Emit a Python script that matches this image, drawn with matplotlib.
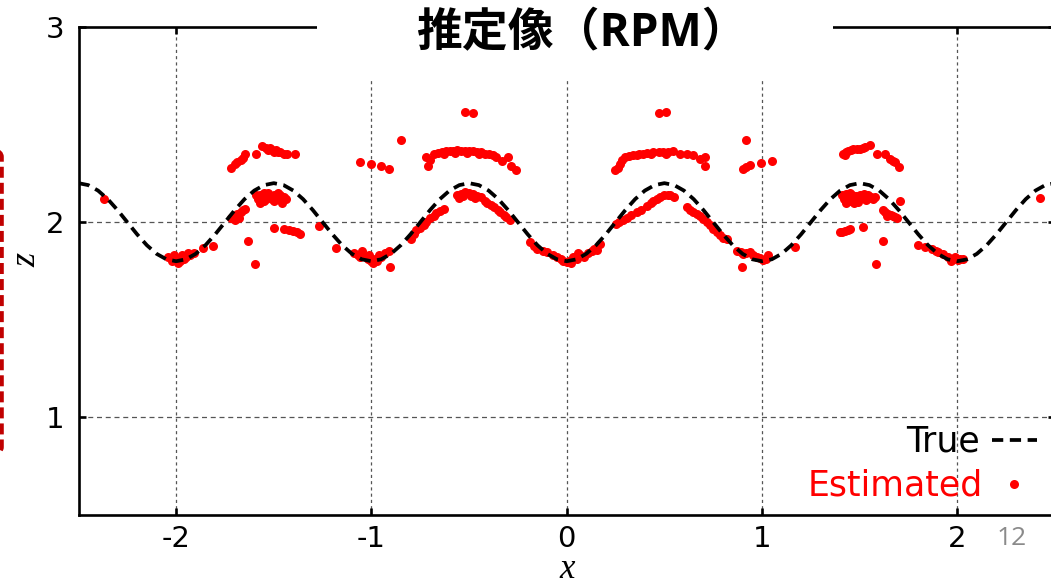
import matplotlib
matplotlib.use("Agg")
import matplotlib.pyplot as plt
from matplotlib.patches import Rectangle, FancyBboxPatch

# ---------------- data ----------------
title_text = "推定像（RPM）"
x_label = "x"
y_label = "z"
page_number = "12"
legend_true = "True"
legend_est = "Estimated"

x_ticks = [-2, -1, 0, 1, 2]
x_ticklabels = ["-2", "-1", "0", "1", "2"]
z_ticks = [1, 2, 3]
z_ticklabels = ["1", "2", "3"]

true_x = [
    -2.5, -2.45, -2.4, -2.35, -2.3, -2.25, -2.2, -2.15, -2.1, -2.05,
    -2.0, -1.95, -1.9, -1.85, -1.8, -1.75, -1.7, -1.65, -1.6, -1.55,
    -1.5, -1.45, -1.4, -1.35, -1.3, -1.25, -1.2, -1.15, -1.1, -1.05,
    -1.0, -0.95, -0.9, -0.85, -0.8, -0.75, -0.7, -0.65, -0.6, -0.55,
    -0.5, -0.45, -0.4, -0.35, -0.3, -0.25, -0.2, -0.15, -0.1, -0.05,
    0.0, 0.05, 0.1, 0.15, 0.2, 0.25, 0.3, 0.35, 0.4, 0.45,
    0.5, 0.55, 0.6, 0.65, 0.7, 0.75, 0.8, 0.85, 0.9, 0.95,
    1.0, 1.05, 1.1, 1.15, 1.2, 1.25, 1.3, 1.35, 1.4, 1.45,
    1.5, 1.55, 1.6, 1.65, 1.7, 1.75, 1.8, 1.85, 1.9, 1.95,
    2.0, 2.05, 2.1, 2.15, 2.2, 2.25, 2.3, 2.35, 2.4, 2.45,
    2.5,
]
true_z = [
    2.2, 2.19, 2.162, 2.118, 2.062, 2.0, 1.938, 1.882, 1.838, 1.81,
    1.8, 1.81, 1.838, 1.882, 1.938, 2.0, 2.062, 2.118, 2.162, 2.19,
    2.2, 2.19, 2.162, 2.118, 2.062, 2.0, 1.938, 1.882, 1.838, 1.81,
    1.8, 1.81, 1.838, 1.882, 1.938, 2.0, 2.062, 2.118, 2.162, 2.19,
    2.2, 2.19, 2.162, 2.118, 2.062, 2.0, 1.938, 1.882, 1.838, 1.81,
    1.8, 1.81, 1.838, 1.882, 1.938, 2.0, 2.062, 2.118, 2.162, 2.19,
    2.2, 2.19, 2.162, 2.118, 2.062, 2.0, 1.938, 1.882, 1.838, 1.81,
    1.8, 1.81, 1.838, 1.882, 1.938, 2.0, 2.062, 2.118, 2.162, 2.19,
    2.2, 2.19, 2.162, 2.118, 2.062, 2.0, 1.938, 1.882, 1.838, 1.81,
    1.8, 1.81, 1.838, 1.882, 1.938, 2.0, 2.062, 2.118, 2.162, 2.19,
    2.2,
]

# estimated points close to the true wave
est_wave = [
    (-2.37, 2.12),
    (-2.04, 1.82), (-2.02, 1.80), (-2.00, 1.81), (-1.98, 1.80), (-1.97, 1.83),
    (-1.95, 1.82), (-1.93, 1.83), (-1.91, 1.84), (-2.01, 1.83), (-1.99, 1.79),
    (-1.96, 1.81), (-1.94, 1.84), (-1.86, 1.87), (-1.81, 1.88),
    (-1.72, 2.02), (-1.70, 2.03), (-1.69, 2.04), (-1.67, 2.05), (-1.66, 2.06),
    (-1.65, 2.07), (-1.68, 2.02), (-1.70, 2.01),
    (-1.27, 1.98), (-1.18, 1.87),
    (-1.09, 1.84), (-1.07, 1.83), (-1.05, 1.85), (-1.03, 1.82), (-1.02, 1.81),
    (-1.00, 1.80), (-0.99, 1.79), (-0.98, 1.81), (-0.96, 1.83), (-0.95, 1.82),
    (-0.93, 1.84), (-0.91, 1.85), (-1.06, 1.82), (-1.01, 1.83), (-0.97, 1.80),
    (-0.80, 1.915), (-0.78, 1.94), (-0.77, 1.96), (-0.75, 1.97), (-0.73, 1.985),
    (-0.72, 2.00), (-0.70, 2.02), (-0.68, 2.03), (-0.67, 2.045), (-0.65, 2.055),
    (-0.63, 2.07),
    (-0.56, 2.137), (-0.54, 2.145), (-0.52, 2.155), (-0.50, 2.15), (-0.48, 2.145),
    (-0.46, 2.135), (-0.44, 2.128), (-0.42, 2.11), (-0.41, 2.10), (-0.39, 2.09),
    (-0.37, 2.077), (-0.35, 2.06), (-0.34, 2.05), (-0.32, 2.035), (-0.31, 2.026),
    (-0.29, 2.009), (-0.55, 2.125), (-0.53, 2.135), (-0.49, 2.135), (-0.47, 2.125),
    (-0.19, 1.898), (-0.17, 1.88), (-0.15, 1.864), (-0.12, 1.85), (-0.10, 1.846),
    (-0.07, 1.83), (-0.05, 1.82), (-0.03, 1.813), (0.0, 1.795),
    (-0.02, 1.80), (0.01, 1.80), (0.03, 1.82), (0.05, 1.81), (0.07, 1.83),
    (0.09, 1.82), (0.11, 1.84), (0.13, 1.85), (0.14, 1.865), (0.155, 1.86),
    (0.17, 1.89), (0.02, 1.79), (0.06, 1.84),
    (0.25, 1.99), (0.27, 2.00), (0.29, 2.01), (0.31, 2.02), (0.33, 2.035),
    (0.36, 2.05), (0.38, 2.065), (0.41, 2.085), (0.43, 2.10), (0.46, 2.12),
    (0.48, 2.13), (0.50, 2.137), (0.53, 2.137), (0.55, 2.128), (0.52, 2.14),
    (0.44, 2.11),
    (0.614, 2.077), (0.63, 2.06), (0.648, 2.051), (0.665, 2.04), (0.683, 2.034),
    (0.70, 2.015), (0.717, 2.0), (0.735, 1.985), (0.751, 1.966), (0.77, 1.95),
    (0.785, 1.932), (0.80, 1.92), (0.819, 1.915),
    (0.87, 1.855), (0.89, 1.845), (0.904, 1.838), (0.92, 1.84), (0.939, 1.846),
    (0.955, 1.83), (0.973, 1.821), (0.99, 1.815), (1.007, 1.804), (1.02, 1.81),
    (1.032, 1.83), (1.169, 1.872),
    (1.621, 2.06), (1.63, 2.05), (1.647, 2.043), (1.66, 2.035), (1.67, 2.03),
    (1.681, 2.026), (1.69, 2.02), (1.64, 2.03), (1.707, 2.111),
    (1.80, 1.881), (1.835, 1.872), (1.869, 1.864), (1.89, 1.855), (1.903, 1.846),
    (1.929, 1.838), (1.954, 1.821), (1.98, 1.813), (2.005, 1.804), (2.031, 1.813),
    (1.97, 1.80), (1.99, 1.82), (2.015, 1.81),
    (2.424, 2.125),
]

# upper band of estimated points
est_upper = [
    (-1.72, 2.28), (-1.70, 2.30), (-1.69, 2.31), (-1.67, 2.32), (-1.66, 2.33),
    (-1.65, 2.35), (-1.59, 2.35), (-1.56, 2.39), (-1.54, 2.38), (-1.53, 2.37),
    (-1.51, 2.37), (-1.50, 2.36), (-1.48, 2.36), (-1.47, 2.36), (-1.45, 2.35),
    (-1.43, 2.35), (-1.39, 2.35), (-1.52, 2.38), (-1.49, 2.37),
    (-0.72, 2.333), (-0.71, 2.29), (-0.70, 2.32), (-0.68, 2.35), (-0.66, 2.355),
    (-0.64, 2.36), (-0.62, 2.365), (-0.60, 2.367), (-0.58, 2.367), (-0.56, 2.37),
    (-0.54, 2.367), (-0.52, 2.367), (-0.50, 2.365), (-0.48, 2.367), (-0.46, 2.36),
    (-0.44, 2.358), (-0.42, 2.35), (-0.40, 2.35), (-0.38, 2.342), (-0.36, 2.335),
    (-0.33, 2.316), (-0.30, 2.333), (-0.285, 2.29), (-0.26, 2.265), (-0.63, 2.35),
    (-0.57, 2.355), (-0.51, 2.355), (-0.45, 2.35),
    (0.247, 2.265), (0.26, 2.28), (0.273, 2.30), (0.285, 2.32), (0.298, 2.333),
    (0.32, 2.34), (0.341, 2.342), (0.36, 2.345), (0.39, 2.35), (0.41, 2.355),
    (0.44, 2.358), (0.47, 2.358), (0.495, 2.358), (0.52, 2.36), (0.546, 2.367),
    (0.58, 2.35), (0.614, 2.35), (0.648, 2.342), (0.683, 2.325), (0.708, 2.333),
    (0.708, 2.29), (0.37, 2.35), (0.43, 2.35), (0.51, 2.35),
    (1.417, 2.35), (1.43, 2.36), (1.442, 2.367), (1.455, 2.37), (1.468, 2.376),
    (1.485, 2.376), (1.502, 2.376), (1.515, 2.38), (1.527, 2.384), (1.553, 2.398),
    (1.587, 2.35), (1.630, 2.35), (1.655, 2.325), (1.668, 2.315), (1.681, 2.307),
    (1.703, 2.282), (1.425, 2.345),
]

# band just below the peaks at x = -1.5 and x = 1.5
est_middle = [
    (-1.59, 2.14), (-1.58, 2.12), (-1.57, 2.14), (-1.56, 2.13), (-1.55, 2.15),
    (-1.54, 2.12), (-1.53, 2.14), (-1.52, 2.13), (-1.51, 2.12), (-1.50, 2.14),
    (-1.49, 2.13), (-1.48, 2.12), (-1.47, 2.14), (-1.46, 2.12), (-1.45, 2.13),
    (-1.44, 2.12), (-1.46, 2.10), (-1.50, 2.11), (-1.55, 2.11), (-1.57, 2.10),
    (-1.53, 2.15), (-1.48, 2.15),
    (1.41, 2.14), (1.42, 2.12), (1.43, 2.145), (1.44, 2.13), (1.45, 2.11),
    (1.46, 2.14), (1.47, 2.12), (1.48, 2.135), (1.49, 2.105), (1.50, 2.14),
    (1.51, 2.125), (1.52, 2.135), (1.53, 2.115), (1.54, 2.14), (1.55, 2.125),
    (1.56, 2.13), (1.57, 2.12), (1.58, 2.13), (1.43, 2.10), (1.47, 2.10),
    (1.52, 2.145), (1.45, 2.15),
]

# short band below z = 2 near x = -1.5 and x = 1.5
est_lower = [
    (-1.50, 1.97), (-1.45, 1.965), (-1.42, 1.96), (-1.40, 1.955), (-1.38, 1.95),
    (-1.365, 1.94),
    (1.399, 1.949), (1.41, 1.952), (1.425, 1.957), (1.44, 1.962), (1.451, 1.966),
    (1.519, 1.975),
]

est_outliers = [
    (-1.63, 1.906), (-1.596, 1.787), (-0.905, 1.77), (-1.06, 2.31), (-1.00, 2.30),
    (-0.95, 2.29), (-0.91, 2.27), (-0.85, 2.42), (-0.52, 2.567), (-0.48, 2.56),
    (0.47, 2.56), (0.51, 2.567), (0.896, 1.77), (0.918, 2.423), (0.901, 2.273),
    (0.92, 2.285), (0.939, 2.294), (0.995, 2.302), (1.053, 2.316), (1.618, 1.906),
    (1.584, 1.787),
]

# ---------------- figure ----------------
W, H = 1051, 587
fig = plt.figure(figsize=(W / 100, H / 100), dpi=100)
fig.patch.set_facecolor("white")

ax = fig.add_axes([78.5 / W, (H - 515) / H, (1055 - 78.5) / W, 488 / H])
ax.set_xlim(-2.5, 2.5)
ax.set_ylim(0.5, 3.0)

# grid
for gx in x_ticks:
    ax.axvline(gx, color="#555555", lw=0.9, ls=(0, (2.5, 2.5)), zorder=1)
for gz in [1, 2]:
    ax.axhline(gz, color="#555555", lw=0.9, ls=(0, (4, 3)), zorder=1)

# estimated points
all_est = est_wave + est_upper + est_middle + est_lower + est_outliers
ex = [p[0] for p in all_est]
ez = [p[1] for p in all_est]
ax.plot(ex, ez, ls="none", marker="o", ms=6.5, color="#ff0000",
        markeredgewidth=0, zorder=3, clip_on=False)

# true curve
true_line, = ax.plot(true_x, true_z, color="black", lw=2.7,
                     dashes=(3.0, 1.75), dash_capstyle="butt", zorder=4)

# spines and ticks
for s in ["left", "bottom", "top", "right"]:
    ax.spines[s].set_linewidth(1.9)
    ax.spines[s].set_color("black")
ax.set_xticks(x_ticks)
ax.set_xticklabels(x_ticklabels)
ax.set_yticks(z_ticks)
ax.set_yticklabels(z_ticklabels)
ax.tick_params(direction="in", length=5, width=1.9, top=True, right=True,
               labelsize=21, pad=7, colors="black")
ax.tick_params(axis="y", pad=10)
for lab in ax.get_xticklabels() + ax.get_yticklabels():
    lab.set_fontfamily("DejaVu Sans")

# axis labels
ax.set_xlabel(x_label, fontsize=25, fontstyle="italic",
              fontfamily="Liberation Serif", va="bottom")
ax.xaxis.set_label_coords(0.5, -0.1445)
ax.set_ylabel(y_label, fontsize=26, fontstyle="italic",
              fontfamily="Liberation Serif", rotation=90, ha="center", va="center")
ax.yaxis.set_label_coords(-0.0527, 0.5225)

# legends (right-aligned, handle after the label)
fig_tr = fig.transFigure
h_true = plt.Line2D([], [], color="black", lw=2.7, dashes=(3.0, 1.75),
                    dash_capstyle="butt")
leg1 = ax.legend([h_true], [legend_true], loc="center right",
                 bbox_to_anchor=(1037 / W, 1 - 442 / H), bbox_transform=fig_tr,
                 frameon=False, fontsize=25, markerfirst=False,
                 handlelength=1.3, handletextpad=0.35, borderpad=0,
                 borderaxespad=0)
ax.add_artist(leg1)
h_est = plt.Line2D([], [], ls="none", marker="o", ms=6.5, color="#ff0000",
                   markeredgewidth=0)
leg2 = ax.legend([h_est], [legend_est], loc="center right",
                 bbox_to_anchor=(1037 / W, 1 - 486 / H), bbox_transform=fig_tr,
                 frameon=False, fontsize=25, markerfirst=False, numpoints=1,
                 handlelength=1.3, handletextpad=0.25, borderpad=0,
                 borderaxespad=0, labelcolor="#ff0000")

# slide elements: title box covering the top of the plot
fig.patches.append(Rectangle((317 / W, 1 - 80 / H), (833 - 317) / W, 80 / H,
                             transform=fig_tr, facecolor="white",
                             edgecolor="none", zorder=10))
fig.text(416 / W, 1 - 46.5 / H, title_text, fontsize=33, fontweight="bold",
         fontfamily=["Open Sans", "Noto Sans CJK JP"], ha="left",
         va="baseline", color="black", zorder=11)

# red dashed rounded frame at the left edge of the slide
fig.patches.append(FancyBboxPatch((-200 / W, 1 - 457 / H), 201.5 / W, 310 / H,
                                  boxstyle="round,pad=0,rounding_size=0.03",
                                  transform=fig_tr, facecolor="none",
                                  edgecolor="#c00000", lw=3.3,
                                  ls=(0, (2.4, 1.1)), zorder=10,
                                  mutation_aspect=H / W))

# page number
fig.text(1012 / W, 1 - 545 / H, page_number, fontsize=19, color="#8a8a8a",
         fontfamily="Open Sans", ha="center", va="baseline", zorder=11)

fig.savefig("out.png", dpi=100, facecolor="white")
